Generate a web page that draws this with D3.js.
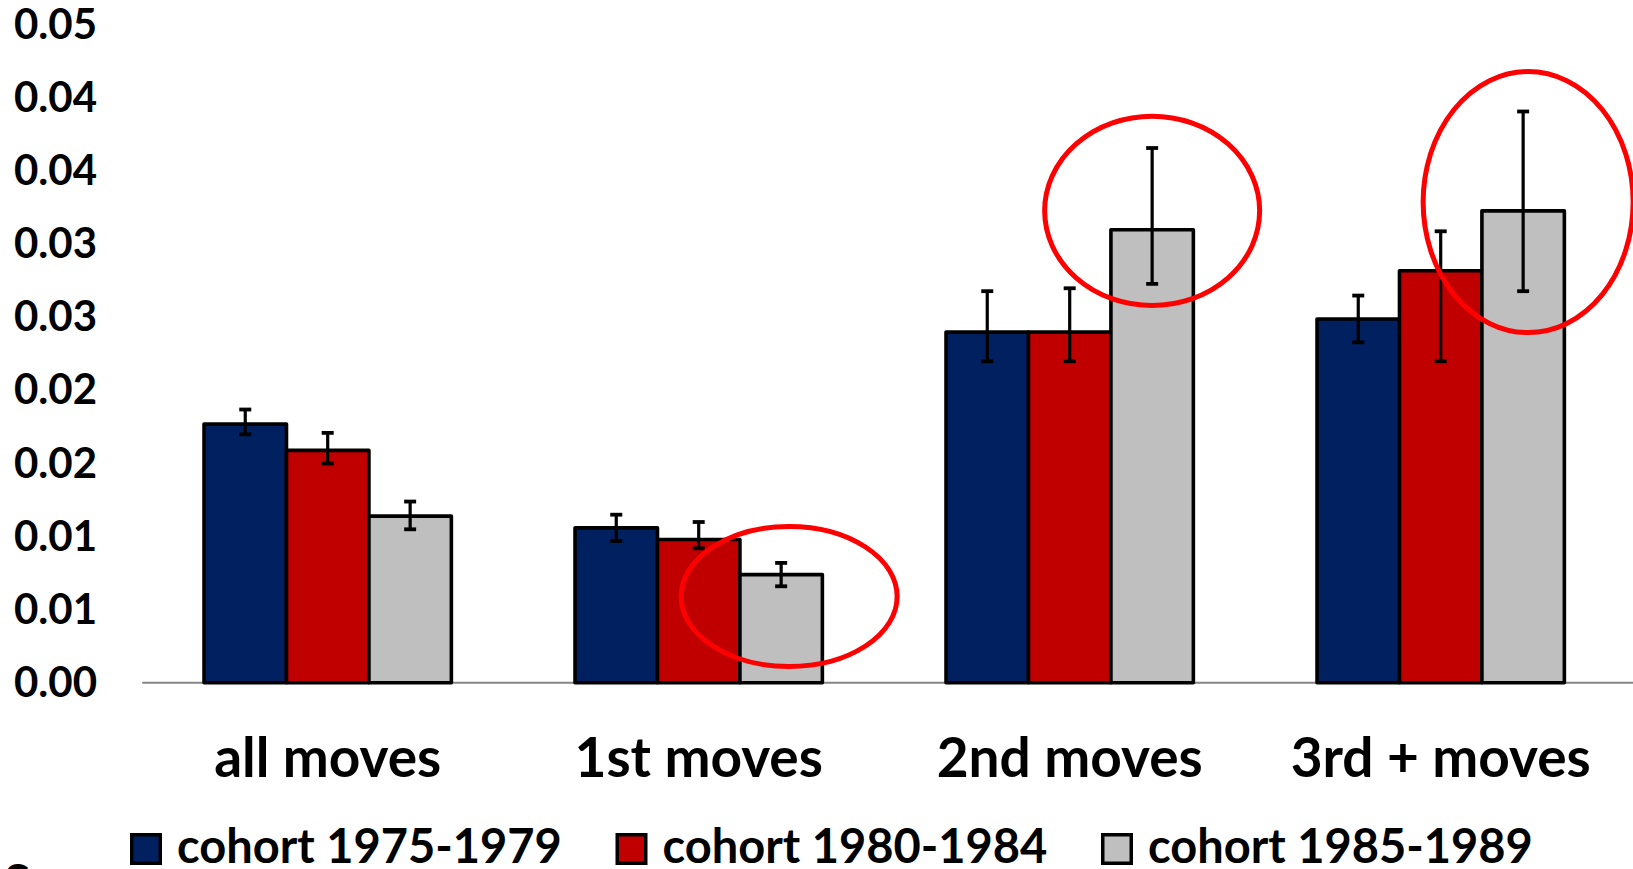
<!DOCTYPE html>
<html>
<head>
<meta charset="utf-8">
<script src="https://cdn.jsdelivr.net/npm/d3@7"></script>
<style>
  html, body { margin: 0; padding: 0; background: #ffffff; }
  svg { display: block; }
  text { font-family: Lato, "Open Sans", sans-serif; font-weight: 700; fill: #000; }
</style>
</head>
<body>
<svg id="chart" width="1633" height="869"></svg>
<script>
// ---- data ----
const categories = ["all moves", "1st moves", "2nd moves", "3rd + moves"];
const seriesNames = ["cohort 1975-1979", "cohort 1980-1984", "cohort 1985-1989"];
const seriesColors = ["#002060", "#C00000", "#BFBFBF"];

const values1975 = [0.0177, 0.0106, 0.0240, 0.0249];
const values1980 = [0.0159, 0.0098, 0.0240, 0.0282];
const values1985 = [0.0114, 0.0074, 0.0310, 0.0323];

const errHigh1975 = [0.0187, 0.0115, 0.0268, 0.0265];
const errLow1975  = [0.0170, 0.0097, 0.0220, 0.0233];
const errHigh1980 = [0.0171, 0.0110, 0.0270, 0.0309];
const errLow1980  = [0.0150, 0.0092, 0.0220, 0.0220];
const errHigh1985 = [0.0124, 0.0082, 0.0366, 0.0391];
const errLow1985  = [0.0105, 0.0066, 0.0273, 0.0268];

const yTickValues = [0, 0.005, 0.01, 0.015, 0.02, 0.025, 0.03, 0.035, 0.04, 0.045];
const yTickLabels = ["0.00", "0.01", "0.01", "0.02", "0.02", "0.03", "0.03", "0.04", "0.04", "0.05"];

// highlighted (circled) bars: category, centre value
const highlightCategories = ["1st moves", "2nd moves", "3rd + moves"];
const highlightCenters = [0.0059, 0.0323, 0.0329];

// ---- build ----
const allValues = [values1975, values1980, values1985];
const allHigh = [errHigh1975, errHigh1980, errHigh1985];
const allLow = [errLow1975, errLow1980, errLow1985];

const svg = d3.select("#chart");

const plotLeft = 142.2, plotRight = 1626.2, plotTop = 25.3, plotBottom = 682.7;

const x = d3.scaleBand()
  .domain(categories)
  .range([plotLeft, plotRight])
  .paddingInner(1 / 3)
  .paddingOuter(1 / 6);

const xs = d3.scaleBand()
  .domain(seriesNames)
  .range([0, x.bandwidth()])
  .padding(0);

const y = d3.scaleLinear()
  .domain([0, 0.045])
  .range([plotBottom, plotTop]);

// y axis (labels only)
const yAxis = d3.axisLeft(y)
  .tickValues(yTickValues)
  .tickFormat((d, i) => yTickLabels[i])
  .tickSize(0)
  .tickPadding(0);

const yG = svg.append("g")
  .attr("transform", "translate(97,0)")
  .call(yAxis);
yG.select(".domain").remove();
yG.selectAll("text")
  .style("font-size", "42px")
  .style("font-family", "Lato, sans-serif")
  .style("font-weight", "700")
  .attr("fill", "#000");

// baseline axis
svg.append("line")
  .attr("x1", plotLeft).attr("x2", 1633)
  .attr("y1", y(0)).attr("y2", y(0))
  .attr("stroke", "#868686")
  .attr("stroke-width", 2);

// table for bars
const rows = [];
categories.forEach((c, ci) => {
  seriesNames.forEach((s, si) => {
    rows.push({
      cat: c, series: s, si,
      value: allValues[si][ci],
      hi: allHigh[si][ci],
      lo: allLow[si][ci]
    });
  });
});

// bars
svg.append("g").selectAll("rect")
  .data(rows)
  .join("rect")
  .attr("x", d => x(d.cat) + xs(d.series))
  .attr("y", d => y(d.value))
  .attr("width", xs.bandwidth())
  .attr("height", d => y(0) - y(d.value))
  .attr("fill", d => seriesColors[d.si])
  .attr("stroke", "#000")
  .attr("stroke-width", 3.6)
  .attr("stroke-linejoin", "round");

// error bars
const capW = 12;
const eg = svg.append("g").attr("stroke", "#000");
rows.forEach(d => {
  const cx = x(d.cat) + xs(d.series) + xs.bandwidth() / 2;
  eg.append("line").attr("x1", cx).attr("x2", cx).attr("y1", y(d.hi)).attr("y2", y(d.lo)).attr("stroke-width", 3.2);
  eg.append("line").attr("x1", cx - capW / 2).attr("x2", cx + capW / 2).attr("y1", y(d.hi)).attr("y2", y(d.hi)).attr("stroke-width", 3.8);
  eg.append("line").attr("x1", cx - capW / 2).attr("x2", cx + capW / 2).attr("y1", y(d.lo)).attr("y2", y(d.lo)).attr("stroke-width", 3.8);
});

// category labels
svg.append("g").selectAll("text")
  .data(categories)
  .join("text")
  .attr("x", d => x(d) + x.bandwidth() / 2)
  .attr("y", 777)
  .attr("text-anchor", "middle")
  .style("font-size", "55px")
  .text(d => d);

// red ellipses (annotations)
const ellipseRx = [108, 107.5, 105];
const ellipseRy = [70, 94.7, 130.5];
const ellipseDx = [8, 0, 5];
const hg = svg.append("g");
highlightCategories.forEach((c, i) => {
  const cx = x(c) + xs(seriesNames[2]) + xs.bandwidth() / 2 + ellipseDx[i];
  hg.append("ellipse")
    .attr("cx", cx)
    .attr("cy", y(highlightCenters[i]))
    .attr("rx", ellipseRx[i])
    .attr("ry", ellipseRy[i])
    .attr("fill", "none")
    .attr("stroke", "#FF0000")
    .attr("stroke-width", 5);
});

// legend
const legendX0 = 130, legendStep = 485.5, legendY = 833, sq = 32;
const lg = svg.append("g");
seriesNames.forEach((s, i) => {
  const gx = legendX0 + i * legendStep;
  lg.append("rect")
    .attr("x", gx + 1.75).attr("y", legendY + 1.75)
    .attr("width", sq - 3.5).attr("height", sq - 3.5)
    .attr("fill", seriesColors[i])
    .attr("stroke", "#000")
    .attr("stroke-width", 3.5);
  lg.append("text")
    .attr("x", gx + 47)
    .attr("y", 863)
    .style("font-size", "47px")
    .text(s);
});

// partially visible text below the chart
svg.append("text")
  .attr("x", 4)
  .attr("y", 899)
  .style("font-size", "48px")
  .text("S");
</script>
</body>
</html>
